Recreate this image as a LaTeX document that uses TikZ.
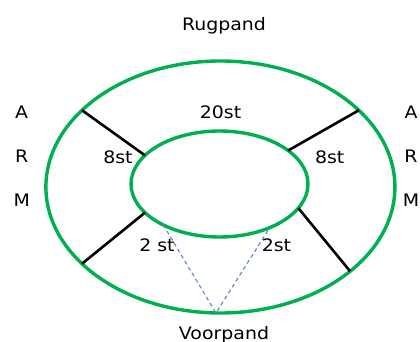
\documentclass[tikz,border=0pt]{standalone}
\usepackage{fontspec}
\setmainfont{DejaVu Sans}[FakeStretch=1.1]
\usetikzlibrary{shapes.geometric}
\definecolor{ringgreen}{RGB}{0,176,80}
\definecolor{foldblue}{RGB}{95,130,200}

\begin{document}
\begin{tikzpicture}[x=1pt,y=-1pt,
    ring/.style={ellipse,draw=ringgreen,line width=3.4pt,inner sep=0pt,outer sep=0pt},
    seam/.style={line width=2.6pt},
    fold/.style={foldblue,line width=1.1pt,dash pattern=on 4pt off 3pt},
    lbl/.style={anchor=base,inner sep=0pt}]
    \fontsize{17.2}{20}\selectfont
    \useasboundingbox (0,0) rectangle (420,342);

    \node[ring,minimum width=349pt,minimum height=252pt] (outer) at (220.4,187) {};
    \node[ring,minimum width=177pt,minimum height=106pt] (inner) at (219.5,184) {};

    \draw[seam] (outer.151) -- (inner.159);
    \draw[seam] (outer.29.4) -- (inner.26.1);
    \draw[seam] (outer.209.2) -- (inner.201.3);
    \draw[seam] (outer.327.8) -- (inner.343.8);

    \draw[fold] (inner.216.5) -- (outer.268) -- (inner.319.7);

    \node[lbl] (rugpand) at (224,30.7) {Rugpand};
    \node[lbl] (voorpand) at (224,339) {Voorpand};
    \node[lbl] (top) at (220.5,119) {20st};
    \node[lbl] (leftst) at (118,163) {8st};
    \node[lbl] (rightst) at (329.7,163) {8st};
    \node[lbl] (foldL) at (157,251.7) {2 st};
    \node[lbl] (foldR) at (276.5,251.7) {2st};

    \foreach \ltr [count=\i] in {A,R,M} {
        \node[lbl] (armL\i) at (21.7,74.1+44.2*\i) {\ltr};
        \node[lbl] (armR\i) at (411,74.1+44.2*\i) {\ltr};
    }
\end{tikzpicture}
\end{document}
